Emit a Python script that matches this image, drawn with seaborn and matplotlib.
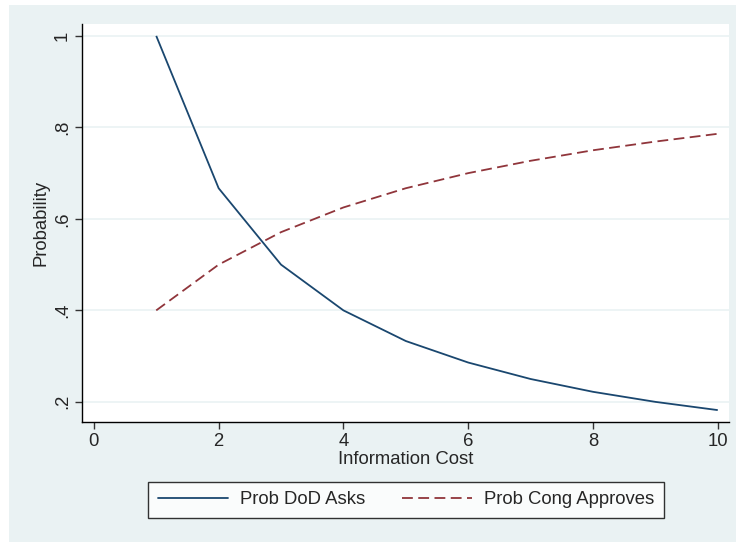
import pandas as pd
import matplotlib
matplotlib.use("Agg")
import matplotlib.pyplot as plt
import seaborn as sns
from matplotlib.lines import Line2D
from matplotlib.patches import Rectangle

# values
info_cost = [1, 2, 3, 4, 5, 6, 7, 8, 9, 10]
prob_dod_asks = [1.0, 0.667, 0.5, 0.4, 0.333, 0.286, 0.25, 0.222, 0.2, 0.182]
prob_cong_approves = [0.4, 0.5, 0.571, 0.625, 0.667, 0.7, 0.727, 0.75, 0.769, 0.786]
x_ticks = [0, 2, 4, 6, 8, 10]
y_ticks = [0.2, 0.4, 0.6, 0.8, 1.0]
y_tick_labels = [".2", ".4", ".6", ".8", "1"]
series_names = ["Prob DoD Asks", "Prob Cong Approves"]

df = pd.DataFrame({
    "cost": info_cost * 2,
    "prob": prob_dod_asks + prob_cong_approves,
    "series": [series_names[0]] * len(info_cost) + [series_names[1]] * len(info_cost),
})

sns.set_style("white")
plt.rcParams['font.family'] = ['Liberation Sans', 'DejaVu Sans']

bg = "#eaf2f3"
navy = "#1a476f"
maroon = "#90353b"
fs = 13.3

fig = plt.figure(figsize=(7.36, 5.42), dpi=100, facecolor="white")
# stata-like outer background (thin white margin at top/left)
fig.patches.append(Rectangle((9 / 736, -0.1), 1.2, 1.1 - 5 / 542, transform=fig.transFigure,
                             facecolor=bg, edgecolor="none", zorder=-10))

ax = fig.add_axes([82 / 736, 1 - 422 / 542, (729 - 82) / 736, (422 - 24) / 542])
ax.set_facecolor("white")

for y in y_ticks:
    ax.axhline(y, color=bg, lw=1.2, zorder=0)

sns.lineplot(data=df, x="cost", y="prob", hue="series", style="series",
             palette=[navy, maroon], dashes=[(1, 0), (6, 3)],
             lw=1.3, ax=ax, legend=False)

ax.set_xlim(-0.19, 10.18)
ax.set_ylim(0.156, 1.026)
ax.set_xticks(x_ticks)
ax.set_xticklabels([str(t) for t in x_ticks], fontsize=fs)
ax.set_yticks(y_ticks)
ax.set_yticklabels(y_tick_labels, fontsize=fs, rotation=90, va="center")
ax.tick_params(axis="both", direction="out", length=5, width=1, color="#333333",
               pad=3, bottom=True, left=True)
ax.set_xlabel("Information Cost", fontsize=fs, labelpad=1)
ax.set_ylabel("Probability", fontsize=fs, labelpad=3)

for s in ["top", "right"]:
    ax.spines[s].set_visible(False)
for s in ["left", "bottom"]:
    ax.spines[s].set_color("black")
    ax.spines[s].set_linewidth(1)

handles = [Line2D([], [], color=navy, lw=1.3),
           Line2D([], [], color=maroon, lw=1.3, ls=(0, (6, 3)))]
leg = fig.legend(handles, series_names, ncol=2,
                 loc="center", bbox_to_anchor=(406 / 736, 1 - 500 / 542),
                 frameon=True, fancybox=False, fontsize=fs, handlelength=3.8,
                 columnspacing=2.0, borderpad=0.5, handletextpad=0.65)
leg.get_frame().set_edgecolor("black")
leg.get_frame().set_linewidth(1)

fig.savefig("out.png", dpi=100, facecolor="white")
